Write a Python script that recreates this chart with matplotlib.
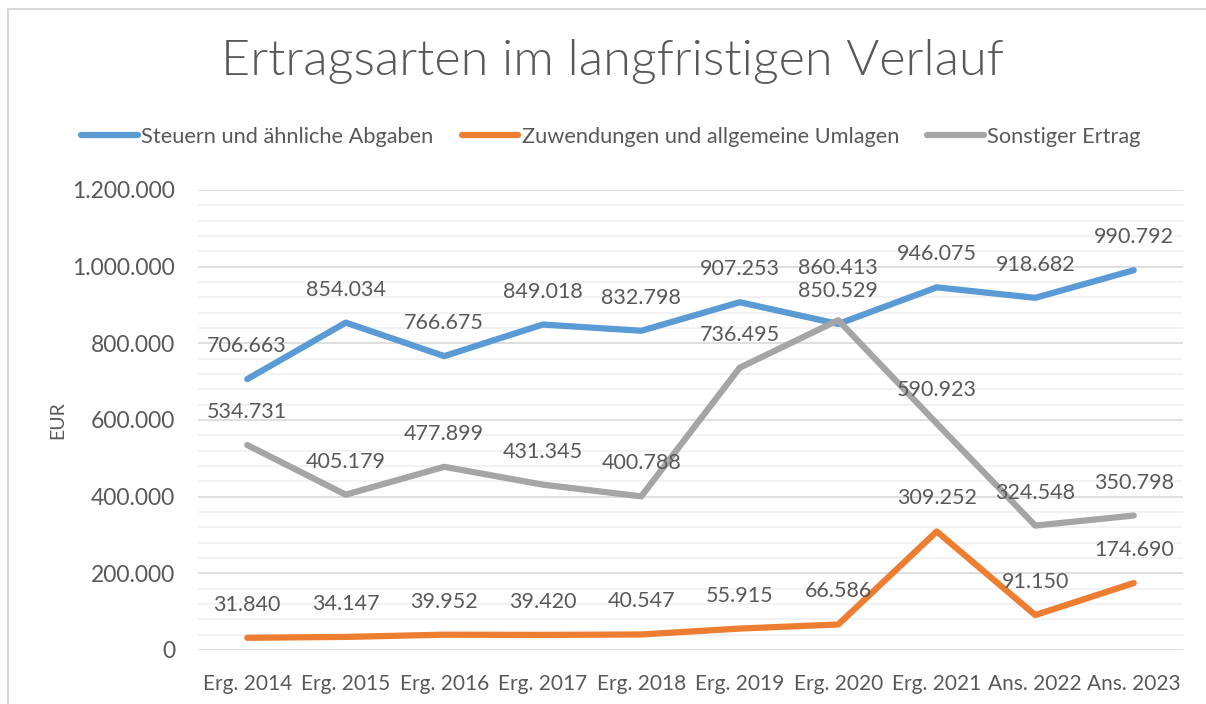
import matplotlib.pyplot as plt
from matplotlib.ticker import MultipleLocator, FuncFormatter
from matplotlib.lines import Line2D

categories = ["Erg. 2014", "Erg. 2015", "Erg. 2016", "Erg. 2017", "Erg. 2018",
              "Erg. 2019", "Erg. 2020", "Erg. 2021", "Ans. 2022", "Ans. 2023"]
steuern = [706663, 854034, 766675, 849018, 832798, 907253, 850529, 946075, 918682, 990792]
zuwendungen = [31840, 34147, 39952, 39420, 40547, 55915, 66586, 309252, 91150, 174690]
sonstige = [534731, 405179, 477899, 431345, 400788, 736495, 860413, 590923, 324548, 350798]

series = [
    ("Steuern und ähnliche Abgaben", steuern, "#5b9bd5"),
    ("Zuwendungen und allgemeine Umlagen", zuwendungen, "#ed7d31"),
    ("Sonstiger Ertrag", sonstige, "#a5a5a5"),
]

# label offsets above point (pixels), default 33
label_dy = {
    ("Sonstiger Ertrag", 6): 52,
}

FONT = "Lato"
TXT = "#595959"
plt.rcParams["font.family"] = [FONT, "DejaVu Sans"]


def de_fmt(v, pos=None):
    return f"{int(v):,}".replace(",", ".")


fig = plt.figure(figsize=(12.06, 7.04), dpi=100)
ax = fig.add_axes([198 / 1206, 54 / 704, 985 / 1206, 460 / 704])

x = list(range(len(categories)))
for name, vals, col in series:
    ax.plot(x, vals, color=col, lw=4.5, solid_capstyle="round", solid_joinstyle="round", zorder=3)
    for i, v in enumerate(vals):
        dy = label_dy.get((name, i), 33)
        ax.annotate(de_fmt(v), (i, v), xytext=(0, dy), textcoords="offset pixels",
                    ha="center", va="center", fontsize=15.5, color=TXT, zorder=4)

ax.set_xlim(-0.5, len(categories) - 0.5)
ax.set_ylim(0, 1200000)
ax.yaxis.set_major_locator(MultipleLocator(200000))
ax.yaxis.set_minor_locator(MultipleLocator(40000))
ax.yaxis.set_major_formatter(FuncFormatter(de_fmt))
ax.grid(axis="y", which="major", color="#d9d9d9", lw=1.2, zorder=1)
ax.grid(axis="y", which="minor", color="#f0f0f0", lw=1.2, zorder=1)
ax.set_xticks(x)
ax.set_xticklabels(categories)
ax.tick_params(axis="both", which="both", length=0, labelcolor=TXT)
ax.tick_params(axis="x", labelsize=15, pad=17)
ax.tick_params(axis="y", labelsize=16.5, pad=16.5)
for s in ax.spines.values():
    s.set_visible(False)
ax.set_ylabel("EUR", fontsize=14, color=TXT, labelpad=4)

fig.text(612 / 1206, 1 - 62 / 704, "Ertragsarten im langfristigen Verlauf",
         ha="center", va="center", fontsize=36.3, color=TXT, fontweight=300)

handles = [Line2D([0], [0], color=c, lw=4.5, solid_capstyle="round") for _, _, c in series]
fig.legend(handles, [n for n, _, _ in series], loc="center", bbox_to_anchor=(611 / 1206, 1 - 137 / 704),
           ncol=3, frameon=False, fontsize=15.7, labelcolor=TXT, handlelength=2.6,
           handletextpad=0.15, columnspacing=1.3)

# chart area border (top and left visible)
fig.add_artist(Line2D([8 / 1206, 8 / 1206], [0, 1 - 9 / 704], color="#d9d9d9", lw=1.5, transform=fig.transFigure))
fig.add_artist(Line2D([8 / 1206, 1], [1 - 9 / 704, 1 - 9 / 704], color="#d9d9d9", lw=1.5, transform=fig.transFigure))

fig.savefig("out.png", dpi=100)
